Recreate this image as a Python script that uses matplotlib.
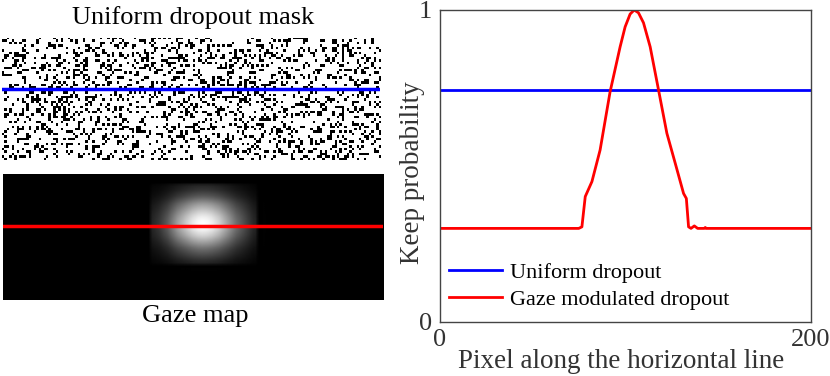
import numpy as np
import matplotlib
matplotlib.use("Agg")
import matplotlib.pyplot as plt

plt.rcParams['font.family'] = ['Liberation Serif', 'DejaVu Serif']

# ---- data ----
uniform_keep = 0.743
gaze_x = [0, 74.8, 76.5, 78.3, 81.9, 86.3, 91.7, 97.1, 99.8, 102.5, 104.7,
          107.0, 109.7, 113.3, 117.8, 122.3, 126.8, 131.3, 132.8, 134.0, 135.3,
          137.1, 138.9, 142.5, 143.0, 143.5, 200]
gaze_y = [0.30, 0.30, 0.305, 0.402, 0.450, 0.551, 0.738, 0.882, 0.946, 0.987, 1.0,
          0.991, 0.959, 0.882, 0.744, 0.605, 0.509, 0.412, 0.396, 0.305, 0.30,
          0.308, 0.30, 0.30, 0.303, 0.30, 0.30]
x_ticks = [0, 200]
y_ticks = [0, 1]
legend_labels = ["Uniform dropout", "Gaze modulated dropout"]

W, H = 830, 376
fig = plt.figure(figsize=(W / 100, H / 100), dpi=100)

def rect(x0, y0, x1, y1):
    return [x0 / W, 1 - y1 / H, (x1 - x0) / W, (y1 - y0) / H]

# ---- uniform dropout mask ----
rng = np.random.default_rng(3)
mrows, mcols = 50, 155
mask = (rng.random((mrows, mcols)) < uniform_keep).astype(float)
ax1 = fig.add_axes(rect(2, 38, 380, 160))
ax1.imshow(mask, cmap='gray', vmin=0, vmax=1, aspect='auto', interpolation='nearest',
           extent=[0, 200, mrows, 0])
ax1.axhline(0.42 * mrows, color='#0000ff', lw=2.5)
ax1.set_xlim(0, 200)
ax1.set_ylim(mrows, 0)
ax1.axis('off')
fig.text(193 / W, 1 - 18 / H, "Uniform dropout mask", ha='center', va='center', fontsize=19)

# ---- gaze map ----
grows, gcols = 66, 200
prof = (np.array(gaze_y) - gaze_y[0]) / (max(gaze_y) - gaze_y[0])
cx = gaze_x[int(np.argmax(gaze_y))]
cols = np.arange(gcols) + 0.5
hprof = np.interp(cols, gaze_x, prof)
rows = np.arange(grows) + 0.5
cy = 0.39 * grows
vscale = (134 - cx) / (0.67 * grows * 0.5)
vprof = np.interp(cx + (rows - cy) * vscale, gaze_x, prof)
gaze_img = np.outer(vprof, hprof)
ax2 = fig.add_axes(rect(3, 174, 383, 300))
ax2.imshow(gaze_img, cmap='gray', vmin=0, vmax=1, aspect='auto', interpolation='bilinear',
           extent=[0, 200, grows, 0])
ax2.axhline(0.415 * grows, color='#ff0000', lw=2.5)
ax2.set_xlim(0, 200)
ax2.set_ylim(grows, 0)
ax2.axis('off')
fig.text(195 / W, 1 - 316 / H, "Gaze map", ha='center', va='center', fontsize=19)

# ---- keep probability plot ----
ax3 = fig.add_axes(rect(440, 10, 811, 322))
ax3.plot([0, 200], [uniform_keep, uniform_keep], color='#0000ff', lw=2, label=legend_labels[0])
ax3.plot(gaze_x, gaze_y, color='#ff0000', lw=2, label=legend_labels[1])
ax3.set_xlim(0, 200)
ax3.set_ylim(0, 1)
ax3.set_xticks(x_ticks)
ax3.set_yticks(y_ticks)
ax3.tick_params(axis='both', length=0, labelsize=19, colors='#333333')
ax3.tick_params(axis='y', pad=6)
ax3.tick_params(axis='x', pad=5)
for s in ax3.spines.values():
    s.set_color('#444444')
    s.set_linewidth(1)
ax3.set_xlabel("Pixel along the horizontal line", fontsize=19.5, color='#333333')
ax3.set_ylabel("Keep probability", fontsize=19.5, color='#333333')
ax3.xaxis.set_label_coords(0.488, -0.088)
ax3.yaxis.set_label_coords(-0.04, 0.48)
ax3.legend(loc='lower left', frameon=False, fontsize=16, handlelength=2.4,
           borderaxespad=0.0, labelspacing=0.3, handletextpad=0.35,
           bbox_to_anchor=(0.0, 0.01))

fig.savefig("out.png", dpi=100)
